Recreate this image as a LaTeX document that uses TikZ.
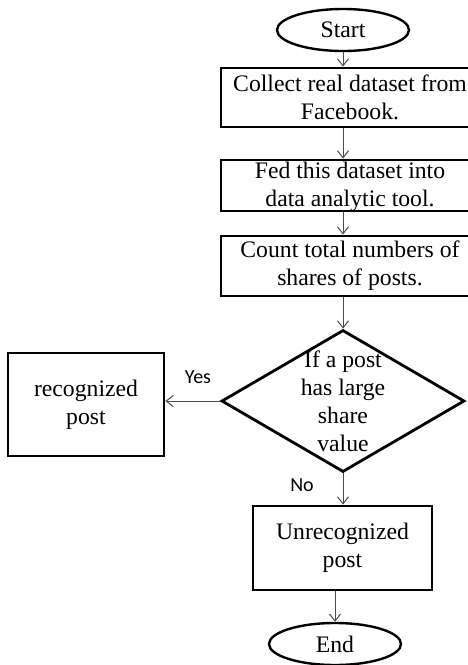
\documentclass[tikz,border=0pt]{standalone}
\usepackage{fontspec}
\setmainfont{Liberation Serif}
\newfontfamily\yesnofont{Carlito}
\usetikzlibrary{shapes.geometric,arrows.meta}
\begin{document}
\begin{tikzpicture}[x=1pt,y=-1pt,
  boxstyle/.style={draw,line width=2.8pt,rectangle,inner sep=0pt},
  ellstyle/.style={draw,line width=2.4pt,ellipse,inner sep=0pt,minimum width=132pt,minimum height=42pt,font=\fontsize{23.7}{28}\selectfont},
  decstyle/.style={draw,line width=2.8pt,diamond,inner sep=0pt,minimum width=243pt,minimum height=142pt},
  txt/.style={align=center,inner sep=0pt,font=\fontsize{23.7}{28}\selectfont},
  yn/.style={inner sep=0pt,font=\yesnofont\fontsize{20}{24}\selectfont},
  conn/.style={draw=black!70,line width=1pt,-{Straight Barb[length=7pt,width=11pt]}}]
\useasboundingbox (0,0) rectangle (468,665);
\clip (0,0) rectangle (468,665);
\fill[white] (0,0) rectangle (468,665);
% nodes
\node[ellstyle] (start) at (343,30) {Start};
\node[boxstyle,minimum width=258pt,minimum height=59pt] (b1) at (350,97.5) {};
\node[txt] (t1) at (b1) {Collect real dataset from\\Facebook.};
\node[boxstyle,minimum width=258pt,minimum height=51pt] (b2) at (350,185.5) {};
\node[txt] (t2) at (350,187) {Fed this dataset into\\data analytic tool.};
\node[boxstyle,minimum width=258pt,minimum height=60pt] (b3) at (350,266) {};
\node[txt] (t3) at (b3) {Count total numbers of\\shares of posts.};
\node[decstyle] (d) at (343,401) {};
\node[txt] (td) at (343,401) {If a post\\has large\\share\\value};
\node[boxstyle,minimum width=156pt,minimum height=103pt] (r) at (86,404.5) {};
\node[txt] (tr) at (r) {recognized\\post};
\node[boxstyle,minimum width=179pt,minimum height=84pt] (u) at (342.5,548) {};
\node[txt] (tu) at (u) {Unrecognized\\post};
\node[ellstyle] (end) at (335,644) {End};
\node[yn] (yes) at (198,377) {Yes};
\node[yn] (no) at (302,485) {No};
% connectors
\draw[conn] (start.south) -- (start.south |- b1.north);
\draw[conn] (start.south |- b1.south) -- (start.south |- b2.north);
\draw[conn] (start.south |- b2.south) -- (start.south |- b3.north);
\draw[conn] (start.south |- b3.south) -- (d.north);
\draw[conn] (d.west) -- (d.west -| r.east);
\draw[conn] (d.south) -- (d.south |- u.north);
\draw[conn] (end.north |- u.south) -- (end.north);
\end{tikzpicture}
\end{document}
